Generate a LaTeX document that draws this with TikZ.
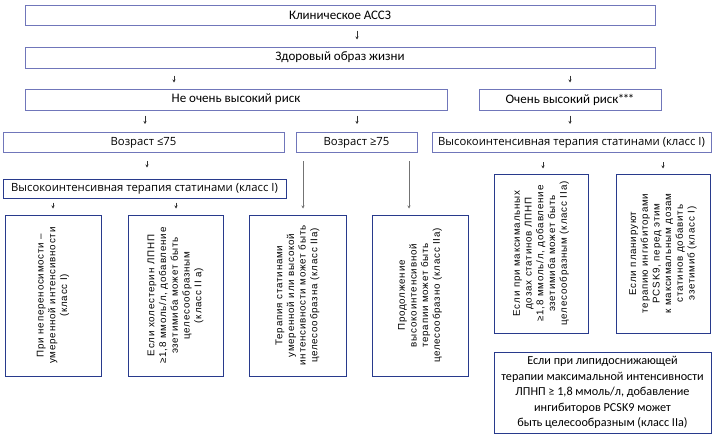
\documentclass[tikz,border=0pt]{standalone}
\usepackage{fontspec}
\setmainfont{Carlito}
\newfontfamily\agefont{Open Sans}
\newfontfamily\rotfont[LetterSpace=8]{Liberation Sans}
\usetikzlibrary{arrows.meta}
\definecolor{lav}{RGB}{112,118,186}
\definecolor{navy}{RGB}{40,58,140}

\begin{document}
\begin{tikzpicture}[x=1pt, y=-1pt,
  box/.style={draw=lav, line width=1pt, inner sep=0pt, align=center, font=\fontsize{13}{15.6}\selectfont},
  agebox/.style={draw=lav, line width=1pt, inner sep=0pt, font=\agefont\fontsize{11.3}{13}\selectfont},
  vbox/.style={draw=navy, line width=1pt, inner sep=0pt, rotate=90, align=center, font=\rotfont\fontsize{9.8}{11.7}\selectfont},
  notebox/.style={draw=navy, line width=1pt, inner sep=0pt, align=center, font=\fontsize{12.2}{15.5}\selectfont},
  arr/.style={-{Stealth[length=3pt,width=3pt]}, line width=0.6pt, black!80},
  longarr/.style={-{Stealth[length=3pt,width=3pt]}, line width=0.6pt, black!55}
]
  \fill[white] (0,0) rectangle (715,437);
  \useasboundingbox (0,0) rectangle (715,437);

  % upper rows
  \node[box, minimum width=630pt, minimum height=20pt] (clin) at (340,15) {Клиническое АССЗ};
  \node[box, minimum width=630pt, minimum height=21pt] (hls) at (340,57.5) {Здоровый образ жизни};
  \node[box, minimum width=422pt, minimum height=21pt] (notvh) at (236,99.5) {Не очень высокий риск};
  \node[box, minimum width=182pt, minimum height=21pt] (vh) at (570,99.5) {Очень высокий риск\kern-.5pt*\kern-1.5pt*\kern-1.5pt*};

  \node[agebox, minimum width=281pt, minimum height=20pt] (age1) at (143.5,142.5) {Возраст ≤75};
  \node[agebox, minimum width=121pt, minimum height=20pt] (age2) at (356.5,142.5) {Возраст ≥75};
  \node[agebox, minimum width=279pt, minimum height=20pt] (hist2) at (571.5,142.5) {Высокоинтенсивная терапия статинами (класс I)};
  \node[agebox, draw=navy, minimum width=283pt, minimum height=19pt] (hist1) at (144.5,188.5) {Высокоинтенсивная терапия статинами (класс I)};

  % rotated boxes
  \node[vbox, minimum width=161pt, minimum height=96pt] (b1) at (53,295.5)
    {При непереносимости –\\умеренной интенсивности\\(класс I)};
  \node[vbox, minimum width=161pt, minimum height=95pt] (b2) at (175.5,295.5)
    {Если холестерин ЛПНП\\≥1,8 ммоль/л, добавление\\эзетимиба может быть\\целесообразным\\(класс II а)};
  \node[vbox, minimum width=161pt, minimum height=97pt] (b3) at (297.5,295.5)
    {Терапия статинами\\умеренной или высокой\\интенсивности может быть\\целесообразна (класс IIa)};
  \node[vbox, minimum width=161pt, minimum height=96pt] (b4) at (420,295.5)
    {Продолжение\\высокоинтенсивной\\терапии может быть\\целесообразно (класс IIa)};
  \node[vbox, minimum width=159pt, minimum height=94pt] (b5) at (541,253.5)
    {Если при максимальных\\дозах статинов ЛПНП\\≥1,8 ммоль/л, добавление\\эзетимиба может быть\\целесообразным (класс IIa)};
  \node[vbox, minimum width=159pt, minimum height=94pt] (b6) at (663,253.5)
    {Если планируют\\терапию ингибиторами\\PCSK9, перед этим\\к максимальным дозам\\статинов добавить\\эзетимиб (класс I)};

  \node[notebox, minimum width=217pt, minimum height=81pt] (b7) at (602.5,392.5)
    {Если при липидоснижающей\\терапии максимальной интенсивности\\ЛПНП ≥ 1,8 ммоль/л, добавление\\ингибиторов PCSK9 может\\быть целесообразным (класс IIa)};

  % arrows
  \draw[arr, shorten <=5pt, shorten >=7pt] ([xshift=17pt]clin.south) -- ([xshift=17pt]hls.north);
  \draw[arr, shorten <=7pt, shorten >=6pt] ([xshift=-166pt]hls.south) -- ([xshift=-62pt]notvh.north);
  \draw[arr, shorten <=7pt, shorten >=6pt] ([xshift=230pt]hls.south) -- (vh.north);
  \draw[arr, shorten <=5pt, shorten >=8pt] ([xshift=-91pt]notvh.south) -- ([xshift=1.5pt]age1.north);
  \draw[arr, shorten <=5pt, shorten >=8pt] ([xshift=121pt]notvh.south) -- ([xshift=0.5pt]age2.north);
  \draw[arr, shorten <=5pt, shorten >=8pt] (vh.south) -- ([xshift=-1.5pt]hist2.north);
  \draw[arr, shorten <=8pt, shorten >=11pt] ([xshift=3.5pt]age1.south) -- ([xshift=2.5pt]hist1.north);
  \draw[arr, shorten <=4pt, shorten >=6pt] ([xshift=-91.5pt]hist1.south) -- (b1.east);
  \draw[arr, shorten <=4pt, shorten >=6pt] ([xshift=31.5pt]hist1.south) -- ([xshift=0.5pt]b2.east);
  \draw[arr, shorten <=9pt, shorten >=5pt] ([xshift=-28.5pt]hist2.south) -- ([xshift=2pt]b5.east);
  \draw[arr, shorten <=9pt, shorten >=5pt] ([xshift=91.5pt]hist2.south) -- (b6.east);
  \draw[longarr, shorten <=8pt, shorten >=6pt] ([xshift=-53.5pt]age2.south) -- ([xshift=5.5pt]b3.east);
  \draw[longarr, shorten <=8pt, shorten >=6pt] ([xshift=52.5pt]age2.south) -- ([xshift=-11pt]b4.east);
\end{tikzpicture}
\end{document}
